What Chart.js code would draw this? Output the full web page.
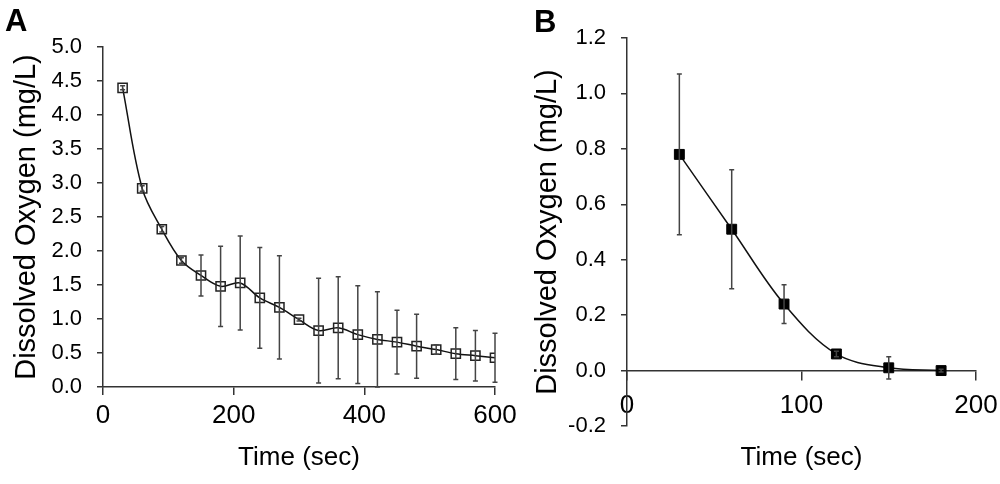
<!DOCTYPE html>
<html>
<head>
<meta charset="utf-8">
<script src="https://cdn.jsdelivr.net/npm/chart.js@4.4.1/dist/chart.umd.min.js"></script>
<style>
  html, body { margin: 0; padding: 0; background: #fff; }
  .panel { position: absolute; top: 0; height: 484px; }
  .tag { position: absolute; font: bold 31px 'Liberation Sans', Arial, sans-serif; line-height: 1; color: #000; }
</style>
</head>
<body>
<div class="panel" style="left:0;width:520px;"><canvas id="chartA"></canvas></div>
<div class="panel" style="left:520px;width:480px;"><canvas id="chartB"></canvas></div>
<div class="tag" style="left:5px;top:5px;">A</div>
<div class="tag" style="left:534px;top:6px;">B</div>
<script>
// panel A
const timeA = [30, 60, 90, 120, 150, 180, 210, 240, 270, 300, 330, 360, 390, 420, 450, 480, 510, 540, 570, 600];
const oxygenA = [4.40, 2.92, 2.32, 1.86, 1.64, 1.48, 1.53, 1.31, 1.17, 0.99, 0.83, 0.87, 0.77, 0.70, 0.66, 0.60, 0.55, 0.49, 0.46, 0.43];
const errA = [0.03, 0.04, 0.04, 0.04, 0.30, 0.59, 0.69, 0.74, 0.76, 0.02, 0.77, 0.75, 0.72, 0.70, 0.47, 0.47, 0.07, 0.38, 0.37, 0.36];
const xTicksA = [0, 200, 400, 600];
const yTicksA = [0, 0.5, 1, 1.5, 2, 2.5, 3, 3.5, 4, 4.5, 5];

// panel B
const timeB = [30, 60, 90, 120, 150, 180];
const oxygenB = [0.78, 0.51, 0.24, 0.06, 0.01, 0.00];
const errB = [0.29, 0.215, 0.07, 0.01, 0.04, 0.005];
const xTicksB = [0, 100, 200];
const yTicksB = [-0.2, 0, 0.2, 0.4, 0.6, 0.8, 1.0, 1.2];

const axisColor = '#333';
const tickFont = { family: "'Liberation Sans', Arial, sans-serif", size: 22 };
const narrowFont = "'Liberation Sans Narrow', 'Arial Narrow', 'Liberation Sans', Arial, sans-serif";

const errorBars = {
  id: 'errorBars',
  afterDatasetsDraw(chart) {
    const { ctx, scales: { x, y } } = chart;
    const ds = chart.data.datasets[0];
    ctx.save();
    ctx.strokeStyle = '#444';
    ctx.lineWidth = 1.5;
    ds.data.forEach((p, i) => {
      const e = ds.errors[i];
      const px = x.getPixelForValue(p.x);
      const top = y.getPixelForValue(p.y + e);
      const bot = y.getPixelForValue(p.y - e);
      ctx.beginPath();
      ctx.moveTo(px, top); ctx.lineTo(px, bot);
      ctx.moveTo(px - 2.5, top); ctx.lineTo(px + 2.5, top);
      ctx.moveTo(px - 2.5, bot); ctx.lineTo(px + 2.5, bot);
      ctx.stroke();
    });
    ctx.restore();
  }
};

function fixed(list) {
  return scale => { scale.ticks = list.map(v => ({ value: v })); };
}
function noPad(w, h) {
  return scale => {
    if (w !== undefined) scale.width = w;
    if (h !== undefined) scale.height = h;
    scale.paddingLeft = 0; scale.paddingRight = 0;
    scale.paddingTop = 0; scale.paddingBottom = 0;
  };
}
function yTitle(pad) {
  return {
    display: true, text: 'Dissolved Oxygen (mg/L)', color: '#000',
    font: { family: "'Liberation Sans', Arial, sans-serif", size: 29 },
    padding: { top: pad, bottom: 0 }
  };
}
function xTitle() {
  return {
    display: true, text: 'Time (sec)', color: '#000',
    font: { family: narrowFont, size: 26 },
    padding: { top: 0, bottom: 11 }
  };
}

// Chart A
new Chart(document.getElementById('chartA'), {
  type: 'line',
  data: {
    datasets: [{
      data: timeA.map((t, i) => ({ x: t, y: oxygenA[i] })),
      errors: errA,
      borderColor: '#111',
      borderWidth: 1.5,
      tension: 0.35,
      fill: false,
      pointStyle: 'rect',
      pointRadius: 6.5,
      pointBorderWidth: 1.5,
      pointBorderColor: '#222',
      pointBackgroundColor: 'rgba(255,255,255,0)'
    }]
  },
  options: {
    responsive: true,
    maintainAspectRatio: false,
    animation: false,
    layout: { padding: { top: 47, right: 25, bottom: 0, left: 0 } },
    plugins: { legend: { display: false }, tooltip: { enabled: false } },
    scales: {
      x: {
        type: 'linear', min: 0, max: 600,
        afterBuildTicks: fixed(xTicksA),
        afterFit: noPad(undefined, 97),
        border: { color: axisColor, width: 1.5 },
        grid: { drawOnChartArea: false, color: axisColor, lineWidth: 1.5, tickLength: 8 },
        ticks: { color: '#000', font: { family: narrowFont, size: 26 }, padding: 5, maxRotation: 0 },
        title: xTitle()
      },
      y: {
        min: 0, max: 5,
        afterBuildTicks: fixed(yTicksA),
        afterFit: noPad(103, undefined),
        border: { color: axisColor, width: 1.5 },
        grid: { drawOnChartArea: false, color: axisColor, lineWidth: 1.5, tickLength: 6 },
        ticks: { color: '#000', font: tickFont, padding: 15, callback: v => v.toFixed(1) },
        title: yTitle(10)
      }
    }
  },
  plugins: [errorBars]
});

// Chart B
new Chart(document.getElementById('chartB'), {
  type: 'line',
  data: {
    datasets: [{
      data: timeB.map((t, i) => ({ x: t, y: oxygenB[i] })),
      errors: errB,
      borderColor: '#111',
      borderWidth: 1.5,
      tension: 0.35,
      fill: false,
      pointStyle: 'rect',
      pointRadius: 7,
      pointBorderWidth: 1,
      pointBorderColor: '#000',
      pointBackgroundColor: '#000'
    }]
  },
  options: {
    responsive: true,
    maintainAspectRatio: false,
    animation: false,
    layout: { padding: { top: 38, right: 24, bottom: 0, left: 0 } },
    plugins: { legend: { display: false }, tooltip: { enabled: false } },
    scales: {
      x: {
        type: 'linear', min: 0, max: 200,
        position: { y: 0 },
        afterBuildTicks: fixed(xTicksB),
        afterFit: noPad(),
        border: { color: axisColor, width: 1.5 },
        grid: { drawOnChartArea: false, color: axisColor, lineWidth: 1.5, tickLength: 9 },
        ticks: { color: '#000', font: { family: narrowFont, size: 26 }, padding: 11, maxRotation: 0 }
      },
      xTitle: {
        type: 'linear', position: 'bottom', min: 0, max: 1,
        afterFit: noPad(undefined, 58),
        border: { display: false },
        grid: { display: false },
        ticks: { display: false },
        title: xTitle()
      },
      y: {
        min: -0.2, max: 1.2,
        afterBuildTicks: fixed(yTicksB),
        afterFit: noPad(107, undefined),
        border: { color: axisColor, width: 1.5 },
        grid: { drawOnChartArea: false, color: axisColor, lineWidth: 1.5, tickLength: 6 },
        ticks: { color: '#000', font: tickFont, padding: 15, callback: v => v.toFixed(1) },
        title: yTitle(11)
      }
    }
  },
  plugins: [errorBars]
});
</script>
</body>
</html>
